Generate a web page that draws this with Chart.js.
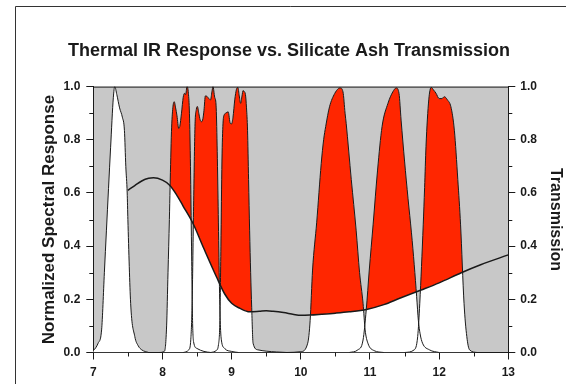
<!DOCTYPE html>
<html>
<head>
<meta charset="utf-8">
<script src="https://cdn.jsdelivr.net/npm/chart.js@4/dist/chart.umd.min.js"></script>
<style>
  html, body { margin: 0; padding: 0; background: #fff; }
</style>
</head>
<body>
<canvas id="chart" width="566" height="384"></canvas>
<script>
// Filter response curves, [wavelength (um), normalized response]
const band1 = [[6.95,0],[7.0,0.007],[7.07,0.035],[7.12,0.085],[7.16,0.3],[7.19,0.46],[7.25,0.77],[7.29,0.96],[7.31,1.0],[7.34,0.97],[7.38,0.92],[7.42,0.885],[7.45,0.835],[7.47,0.7],[7.49,0.6],[7.5,0.5],[7.54,0.185],[7.6,0.06],[7.65,0.025],[7.7,0.01],[7.8,0]];
const band2 = [[7.95,0],[8.03,0.005],[8.06,0.1],[8.08,0.3],[8.1,0.5],[8.11,0.62],[8.13,0.83],[8.15,0.92],[8.17,0.943],[8.19,0.92],[8.21,0.89],[8.235,0.843],[8.25,0.85],[8.275,0.9],[8.3,0.96],[8.32,0.975],[8.335,0.97],[8.355,1.0],[8.375,0.975],[8.39,0.9],[8.405,0.7],[8.42,0.4],[8.435,0.12],[8.45,0.04],[8.5,0.015],[8.6,0.004],[8.7,0]];
const band3 = [[8.3,0],[8.38,0.01],[8.41,0.05],[8.43,0.2],[8.45,0.55],[8.47,0.85],[8.49,0.915],[8.505,0.925],[8.525,0.9],[8.545,0.875],[8.565,0.868],[8.585,0.88],[8.6,0.91],[8.62,0.965],[8.645,0.963],[8.67,0.955],[8.695,0.95],[8.715,0.98],[8.73,1.0],[8.755,0.96],[8.775,0.93],[8.79,0.78],[8.805,0.55],[8.82,0.3],[8.835,0.12],[8.85,0.05],[8.9,0.015],[9.0,0.004],[9.1,0]];
const band4 = [[8.7,0],[8.78,0.008],[8.81,0.03],[8.83,0.12],[8.845,0.4],[8.86,0.72],[8.875,0.86],[8.895,0.895],[8.915,0.9],[8.95,0.905],[8.98,0.862],[9.0,0.86],[9.02,0.885],[9.045,0.95],[9.07,0.99],[9.09,0.997],[9.11,0.965],[9.13,0.937],[9.15,0.965],[9.165,0.985],[9.185,0.98],[9.2,0.97],[9.215,0.92],[9.23,0.836],[9.245,0.65],[9.26,0.46],[9.275,0.3],[9.29,0.17],[9.31,0.035],[9.38,0.01],[9.5,0.005],[9.65,0.002],[9.8,0]];
const band5 = [[9.8,0],[10.0,0.003],[10.1,0.035],[10.135,0.12],[10.17,0.31],[10.23,0.49],[10.295,0.71],[10.33,0.8],[10.36,0.85],[10.415,0.924],[10.49,0.974],[10.545,0.993],[10.57,0.995],[10.61,0.98],[10.64,0.9],[10.656,0.862],[10.73,0.65],[10.8,0.46],[10.85,0.3],[10.9,0.185],[10.93,0.085],[10.97,0.035],[11.06,0.007],[11.2,0]];
const band6 = [[10.7,0],[10.825,0.01],[10.9,0.047],[10.946,0.16],[10.99,0.31],[11.045,0.48],[11.11,0.686],[11.175,0.85],[11.26,0.937],[11.33,0.98],[11.38,0.995],[11.42,0.974],[11.45,0.874],[11.5,0.72],[11.55,0.58],[11.6,0.45],[11.64,0.33],[11.675,0.21],[11.7,0.12],[11.725,0.07],[11.76,0.035],[11.86,0.01],[12.0,0]];
const band7 = [[11.5,0],[11.64,0.01],[11.69,0.06],[11.72,0.185],[11.77,0.48],[11.79,0.62],[11.81,0.774],[11.85,0.95],[11.885,0.997],[11.92,0.987],[11.955,0.975],[12.0,0.955],[12.04,0.955],[12.075,0.962],[12.12,0.95],[12.17,0.924],[12.22,0.836],[12.27,0.65],[12.31,0.48],[12.36,0.185],[12.4,0.06],[12.44,0.01],[12.55,0]];
const bands = [band1, band2, band3, band4, band5, band6, band7];

// Silicate ash transmission
const transmission = [[7.5,0.61],[7.6,0.628],[7.7,0.645],[7.8,0.655],[7.87,0.657],[8.0,0.648],[8.1,0.63],[8.2,0.595],[8.3,0.55],[8.44,0.486],[8.6,0.39],[8.78,0.285],[8.9,0.22],[9.0,0.185],[9.12,0.166],[9.26,0.153],[9.4,0.155],[9.5,0.157],[9.6,0.155],[9.75,0.15],[9.9,0.143],[10.0,0.14],[10.13,0.141],[10.3,0.144],[10.5,0.148],[10.7,0.153],[10.95,0.162],[11.2,0.18],[11.43,0.204],[11.74,0.235],[12.0,0.262],[12.32,0.3],[12.6,0.33],[13.0,0.367]];

// Axis ticks
const xTicks = [7, 8, 9, 10, 11, 12, 13];
const xMinor = [7.5, 8.5, 9.5, 10.5, 11.5, 12.5];
const yTicks = [0, 0.2, 0.4, 0.6, 0.8, 1.0];
const yMinor = [0.1, 0.3, 0.5, 0.7, 0.9];

const GRAY = '#c8c8c8';
const RED = '#ff2600';
const INK = '#1a1a1a';
const FONT = 'Liberation Sans, Arial, Helvetica, sans-serif';

const toPoints = (arr) => arr.map(([x, y]) => ({ x, y }));

// Gray plot area, page frame, top border and minor ticks
const decorations = {
    id: 'decorations',
    beforeDraw(chart) {
        const { ctx, chartArea: a } = chart;
        ctx.save();
        ctx.strokeStyle = '#333';
        ctx.lineWidth = 1;
        ctx.beginPath();
        ctx.moveTo(15.5, 384);
        ctx.lineTo(15.5, 6.5);
        ctx.lineTo(566, 6.5);
        ctx.stroke();
        ctx.fillStyle = GRAY;
        ctx.fillRect(a.left, a.top, a.right - a.left, a.bottom - a.top);
        ctx.restore();
    },
    afterDraw(chart) {
        const { ctx, chartArea: a, scales } = chart;
        ctx.save();
        ctx.strokeStyle = INK;
        ctx.lineWidth = 1;
        ctx.beginPath();
        ctx.moveTo(a.left, a.top + 0.5);
        ctx.lineTo(a.right, a.top + 0.5);
        xMinor.forEach((v) => {
            const px = Math.round(scales.x.getPixelForValue(v)) + 0.5;
            ctx.moveTo(px, a.bottom);
            ctx.lineTo(px, a.bottom + 4);
        });
        yMinor.forEach((v) => {
            const py = Math.round(scales.y.getPixelForValue(v)) + 0.5;
            ctx.moveTo(a.left - 4, py);
            ctx.lineTo(a.left, py);
            ctx.moveTo(a.right, py);
            ctx.lineTo(a.right + 4, py);
        });
        ctx.stroke();
        ctx.restore();
    },
};

function buildDatasets() {
    const datasets = [{
        label: 'Transmission',
        data: toPoints(transmission),
        yAxisID: 'y1',
        borderColor: INK,
        borderWidth: 1.5,
        fill: false,
        order: 1,
    }];
    bands.forEach((band, i) => {
        // white area under each filter curve
        datasets.push({
            label: 'band' + (i + 1) + ' base',
            data: toPoints(band),
            borderColor: 'rgba(0,0,0,0)',
            backgroundColor: '#ffffff',
            fill: 'origin',
            order: 3,
        });
        // red where the response rises above the transmission
        datasets.push({
            label: 'band' + (i + 1),
            data: toPoints(band),
            borderColor: INK,
            borderWidth: 1,
            fill: i === 0 ? false : { target: 0, above: RED, below: 'rgba(0,0,0,0)' },
            order: 2,
        });
    });
    return datasets;
}

function yAxis(position, title, width, titlePad, labelPad) {
    return {
        type: 'linear',
        position,
        min: 0,
        max: 1,
        afterBuildTicks: (s) => { s.ticks = yTicks.map((v) => ({ value: v })); },
        afterFit: (s) => { s.width = width; },
        grid: { drawOnChartArea: false, tickLength: 7, tickColor: INK },
        border: { display: true, color: INK, width: 1 },
        ticks: {
            padding: labelPad,
            color: INK,
            font: { family: FONT, size: 12, weight: 'bold' },
            callback: (v) => v.toFixed(1),
        },
        title: {
            display: true,
            text: title,
            color: INK,
            padding: { top: titlePad, bottom: 0 },
            font: { family: FONT, size: position === 'left' ? 17 : 16, weight: 'bold' },
        },
    };
}

function renderChart() {
    const ctx = document.getElementById('chart').getContext('2d');
    new Chart(ctx, {
        type: 'line',
        data: { datasets: buildDatasets() },
        plugins: [decorations],
        options: {
            responsive: false,
            animation: false,
            events: [],
            layout: { padding: { left: 12, right: 0, top: 0, bottom: 0 } },
            elements: {
                point: { radius: 0 },
                line: { cubicInterpolationMode: 'monotone' },
            },
            plugins: {
                legend: { display: false },
                tooltip: { enabled: false },
                title: {
                    display: true,
                    text: 'Thermal IR Response vs. Silicate Ash Transmission',
                    color: INK,
                    font: { family: FONT, size: 18, weight: 'bold' },
                    padding: { top: 40, bottom: 25 },
                },
            },
            scales: {
                x: {
                    type: 'linear',
                    min: 7,
                    max: 13,
                    afterBuildTicks: (s) => { s.ticks = xTicks.map((v) => ({ value: v })); },
                    afterFit: (s) => { s.height = 31.5; },
                    grid: { drawOnChartArea: false, tickLength: 7, tickColor: INK },
                    border: { display: true, color: INK, width: 1 },
                    ticks: {
                        padding: 6,
                        color: INK,
                        maxRotation: 0,
                        font: { family: FONT, size: 12, weight: 'bold' },
                    },
                },
                y: yAxis('left', 'Normalized Spectral Response', 81.3, 27, 6),
                y1: yAxis('right', 'Transmission', 57.7, 1, 5),
            },
        },
    });
}

renderChart();
</script>
</body>
</html>
